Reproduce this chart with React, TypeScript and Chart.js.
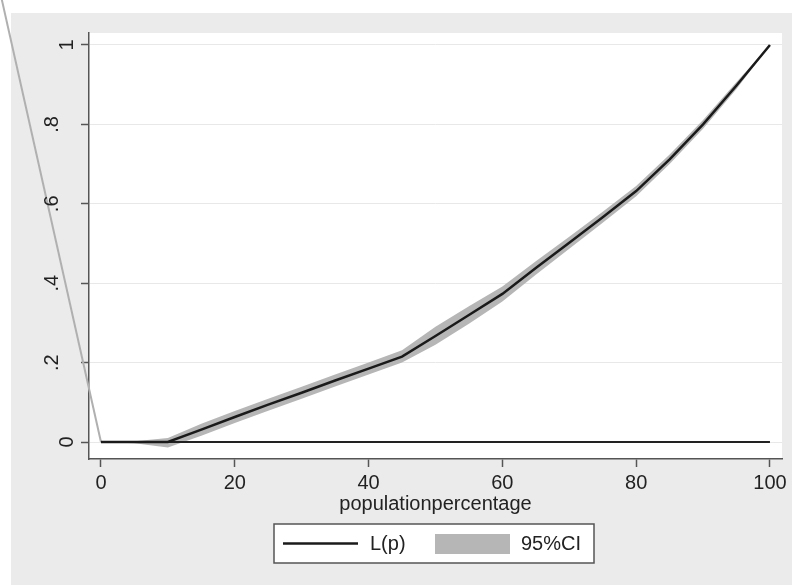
import React, { useEffect, useRef } from "react";
import { Chart, registerables } from "chart.js";

Chart.register(...registerables);

// ---- data ----
const popPct = [0, 5, 10, 15, 20, 25, 30, 35, 40, 45, 50, 55, 60, 65, 70, 75, 80, 85, 90, 95, 100];
const lorenz = [0, 0, 0, 0.031, 0.063, 0.094, 0.124, 0.155, 0.185, 0.215, 0.267, 0.32, 0.373, 0.438, 0.502, 0.566, 0.632, 0.712, 0.8, 0.898, 1.0];
const ciUpper = [0, 0.002, 0.01, 0.046, 0.078, 0.109, 0.139, 0.17, 0.2, 0.231, 0.29, 0.342, 0.392, 0.455, 0.517, 0.58, 0.645, 0.724, 0.811, 0.907, 1.0];
const ciLower = [0, -0.003, -0.014, 0.016, 0.048, 0.079, 0.109, 0.14, 0.17, 0.2, 0.245, 0.298, 0.354, 0.421, 0.487, 0.552, 0.619, 0.7, 0.789, 0.889, 1.0];
const zeroLineX = [0, 100];
const zeroLineY = [0, 0];
const diagX = [0, -14.9];
const diagY = [0, 1.12];
const xTicks = [0, 20, 40, 60, 80, 100];
const yTicks = [0, 0.2, 0.4, 0.6, 0.8, 1];
const yTickLabels = ["0", ".2", ".4", ".6", ".8", "1"];
const xTitle = "populationpercentage";
const legendLine = "L(p)";
const legendBand = "95%CI";

const FONT = "'Liberation Sans', Arial, sans-serif";
const TEXT = "#222";
const AXIS = "#555";
const BAND = "#b6b6b6";

const pts = (xs: number[], ys: number[]) => xs.map((x, i) => ({ x, y: ys[i] }));

const bgPlugin = {
  id: "stataBg",
  beforeDraw(chart: any) {
    const { ctx, width, height, chartArea } = chart;
    ctx.save();
    ctx.fillStyle = "#ffffff";
    ctx.fillRect(0, 0, width, height);
    ctx.fillStyle = "#ebebeb";
    ctx.fillRect(11, 13, width - 11, height - 13);
    ctx.fillStyle = "#ffffff";
    ctx.fillRect(chartArea.left, chartArea.top, chartArea.right - chartArea.left, chartArea.bottom - chartArea.top);
    ctx.restore();
  },
};

const yLabelPlugin = {
  id: "yLabels",
  afterDraw(chart: any) {
    const { ctx } = chart;
    const ys = chart.scales.y;
    ctx.save();
    ctx.fillStyle = TEXT;
    ctx.font = `20px ${FONT}`;
    ctx.textAlign = "center";
    ctx.textBaseline = "alphabetic";
    yTicks.forEach((v, i) => {
      const label = yTickLabels[i];
      const py = ys.getPixelForValue(v);
      const bx = ys.right - 16 - (label.startsWith(".") ? 15 : 0);
      ctx.save();
      ctx.translate(bx, py);
      ctx.rotate(-Math.PI / 2);
      ctx.fillText(label, 0, 0);
      ctx.restore();
    });
    ctx.restore();
  },
};

const legendPlugin = {
  id: "stataLegend",
  afterDraw(chart: any) {
    const { ctx, chartArea } = chart;
    const w = 320;
    const h = 39;
    const x0 = Math.round((chartArea.left + chartArea.right) / 2 - w / 2 - 2);
    const y0 = 524;
    ctx.save();
    ctx.fillStyle = "#ffffff";
    ctx.fillRect(x0, y0, w, h);
    ctx.strokeStyle = AXIS;
    ctx.lineWidth = 1.5;
    ctx.strokeRect(x0, y0, w, h);
    const my = y0 + h / 2;
    ctx.strokeStyle = "#1a1a1a";
    ctx.lineWidth = 2.5;
    ctx.beginPath();
    ctx.moveTo(x0 + 9, my);
    ctx.lineTo(x0 + 84, my);
    ctx.stroke();
    ctx.fillStyle = TEXT;
    ctx.font = `20px ${FONT}`;
    ctx.textAlign = "left";
    ctx.textBaseline = "middle";
    ctx.fillText(legendLine, x0 + 96, my + 1);
    ctx.fillStyle = BAND;
    ctx.fillRect(x0 + 161, y0 + 10, 75, 20);
    ctx.fillStyle = TEXT;
    ctx.fillText(legendBand, x0 + 247, my + 1);
    ctx.restore();
  },
};

export default function App() {
  const ref = useRef<HTMLCanvasElement | null>(null);
  useEffect(() => {
    if (!ref.current) return;
    const chart = new Chart(ref.current, {
      type: "line",
      data: {
        datasets: [
          {
            label: legendLine,
            data: pts(popPct, lorenz),
            borderColor: "#1a1a1a",
            borderWidth: 2.5,
            pointRadius: 0,
            fill: false,
            tension: 0,
          },
          {
            label: "zero",
            data: pts(zeroLineX, zeroLineY),
            borderColor: "#222",
            borderWidth: 2,
            pointRadius: 0,
            fill: false,
          },
          {
            label: "diag",
            data: pts(diagX, diagY),
            borderColor: "#b0b0b0",
            borderWidth: 2,
            pointRadius: 0,
            fill: false,
            clip: false as any,
          },
          {
            label: legendBand + " upper",
            data: pts(popPct, ciUpper),
            borderColor: "rgba(0,0,0,0)",
            borderWidth: 0,
            pointRadius: 0,
            fill: false,
          },
          {
            label: legendBand,
            data: pts(popPct, ciLower),
            borderColor: "rgba(0,0,0,0)",
            backgroundColor: BAND,
            borderWidth: 0,
            pointRadius: 0,
            fill: "-1",
          },
        ],
      },
      options: {
        responsive: false,
        animation: false,
        layout: { padding: { left: 0, top: 33, right: 10, bottom: 0 } },
        plugins: { legend: { display: false }, tooltip: { enabled: false } },
        scales: {
          x: {
            type: "linear",
            min: -1.79,
            max: 101.8,
            afterBuildTicks: (s: any) => {
              s.ticks = xTicks.map((v) => ({ value: v }));
            },
            afterFit: (s: any) => {
              s.height = 126;
            },
            grid: { drawOnChartArea: false, drawTicks: true, tickLength: 8, tickColor: AXIS, tickWidth: 1.5 },
            border: { display: true, color: AXIS, width: 1.5 },
            ticks: { color: TEXT, font: { family: FONT, size: 20 }, padding: 4, maxRotation: 0 },
            title: {
              display: true,
              text: xTitle,
              color: TEXT,
              font: { family: FONT, size: 20 },
              padding: { top: 0, bottom: 69 },
            },
          },
          y: {
            type: "linear",
            min: -0.0428,
            max: 1.0302,
            afterBuildTicks: (s: any) => {
              s.ticks = yTicks.map((v) => ({ value: v }));
            },
            afterFit: (s: any) => {
              s.width = 89;
            },
            grid: { color: "#e8e8e8", lineWidth: 1, drawTicks: true, tickLength: 8, tickColor: AXIS, tickWidth: 1.5 },
            border: { display: true, color: AXIS, width: 1.5 },
            ticks: { color: "rgba(0,0,0,0)", font: { family: FONT, size: 20 } },
          },
        },
      },
      plugins: [bgPlugin, yLabelPlugin, legendPlugin],
    });
    return () => chart.destroy();
  }, []);
  return (
    <div style={{ position: "absolute", left: 0, top: 0, width: 792, height: 585 }}>
      <canvas ref={ref} width={792} height={585} style={{ display: "block" }} />
    </div>
  );
}
